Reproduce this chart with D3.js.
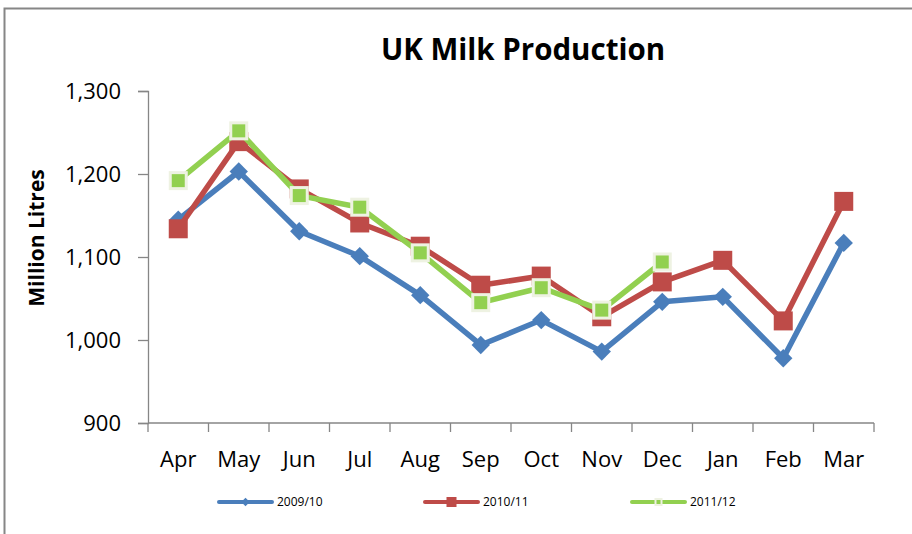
<!DOCTYPE html>
<html>
<head>
<meta charset="utf-8">
<script src="https://cdn.jsdelivr.net/npm/d3@7"></script>
<style>
  body { margin: 0; background: #fff; }
  svg text { font-family: "Open Sans", Lato, sans-serif; fill: #000; }
</style>
</head>
<body>
<div id="chart"></div>
<script>
// Data
var months = ["Apr", "May", "Jun", "Jul", "Aug", "Sep", "Oct", "Nov", "Dec", "Jan", "Feb", "Mar"];
var y2009 = [1145, 1203, 1131, 1101, 1054, 994, 1024, 986, 1046, 1052, 978, 1117];
var y2010 = [1134, 1239, 1182, 1141, 1113, 1066, 1077, 1028, 1070, 1096, 1023, 1167];
var y2011 = [1192, 1252, 1174, 1160, 1105, 1045, 1063, 1036, 1094];
var yTicks = [900, 1000, 1100, 1200, 1300];
var seriesNames = ["2009/10", "2010/11", "2011/12"];

var svgW = 912, svgH = 534;
var margin = { top: 91, right: 38, bottom: 111, left: 148 };
var w = svgW - margin.left - margin.right;
var h = svgH - margin.top - margin.bottom;

var svg = d3.select("#chart").append("svg")
  .attr("width", svgW)
  .attr("height", svgH);

// outer chart border (only top + left visible)
svg.append("path")
  .attr("d", "M4.5,534 L4.5,8.5 L912,8.5")
  .attr("fill", "none")
  .attr("stroke", "#868686")
  .attr("stroke-width", 2);

var g = svg.append("g")
  .attr("transform", "translate(" + margin.left + "," + margin.top + ")");

var x = d3.scaleBand().domain(months).range([0, w]);
var y = d3.scaleLinear().domain([900, 1300]).range([h, 0]);

// Y axis
var yAxis = d3.axisLeft(y).tickValues(yTicks).tickSize(10).tickPadding(17)
  .tickFormat(d3.format(","));
var yg = g.append("g").call(yAxis);
yg.select(".domain").attr("stroke", "#868686").attr("stroke-width", 1.3);
yg.selectAll(".tick line").attr("stroke", "#868686").attr("stroke-width", 1.3);
yg.selectAll(".tick text").style("font-size", "22px").attr("dy", "0.36em");

// X axis
var xg = g.append("g").attr("transform", "translate(0," + h + ")");
xg.append("line").attr("x1", 0).attr("x2", w).attr("y1", 0).attr("y2", 0)
  .attr("stroke", "#868686").attr("stroke-width", 1.3);
xg.selectAll(".xtick").data(d3.range(months.length + 1)).enter()
  .append("line")
  .attr("x1", i => i * x.step()).attr("x2", i => i * x.step())
  .attr("y1", 0).attr("y2", 9)
  .attr("stroke", "#868686").attr("stroke-width", 1.3);
xg.selectAll(".xlab").data(months).enter()
  .append("text")
  .attr("x", d => x(d) + x.bandwidth() / 2)
  .attr("y", 44)
  .attr("text-anchor", "middle")
  .style("font-size", "22px")
  .text(d => d);

// Title
svg.append("text")
  .attr("x", 523).attr("y", 60)
  .attr("text-anchor", "middle")
  .style("font-size", "29.5px").style("font-weight", "bold")
  .text("UK Milk Production");

// Y label
svg.append("text")
  .attr("transform", "translate(44,238) rotate(-90)")
  .attr("text-anchor", "middle")
  .style("font-size", "21px").style("font-weight", "bold")
  .text("Million Litres");

var cx = i => x(months[i]) + x.bandwidth() / 2;
var line = d3.line().x((d, i) => cx(i)).y(d => y(d));

var series = [
  { name: seriesNames[0], vals: y2009, color: "#4A7EBB", shape: "diamond" },
  { name: seriesNames[1], vals: y2010, color: "#BE4B48", shape: "square" },
  { name: seriesNames[2], vals: y2011, color: "#92D050", shape: "squareb" }
];

function drawMarker(sel, s, px, py, size, bw) {
  if (s.shape === "diamond") {
    sel.append("rect")
      .attr("x", -size / 2).attr("y", -size / 2)
      .attr("width", size).attr("height", size)
      .attr("fill", s.color)
      .attr("transform", "translate(" + px + "," + py + ") rotate(45)");
  } else if (s.shape === "square") {
    sel.append("rect")
      .attr("x", px - size / 2).attr("y", py - size / 2)
      .attr("width", size).attr("height", size)
      .attr("fill", s.color);
  } else {
    sel.append("rect")
      .attr("x", px - size / 2).attr("y", py - size / 2)
      .attr("width", size).attr("height", size)
      .attr("fill", s.color)
      .attr("stroke", "#EEF2E2").attr("stroke-width", bw);
  }
}

series.forEach(function (s) {
  var sg = g.append("g");
  sg.append("path")
    .datum(s.vals)
    .attr("d", line)
    .attr("fill", "none")
    .attr("stroke", s.color)
    .attr("stroke-width", 5.5)
    .attr("stroke-linejoin", "round");
  var sizes = { diamond: 13, square: 19, squareb: 16 };
  s.vals.forEach(function (v, i) {
    drawMarker(sg, s, cx(i), y(v), sizes[s.shape], 3);
  });
});

// Legend
var legX = [219, 425, 632];
var legY = 502;
series.forEach(function (s, i) {
  var lg = svg.append("g");
  lg.append("line")
    .attr("x1", legX[i]).attr("x2", legX[i] + 53)
    .attr("y1", legY).attr("y2", legY)
    .attr("stroke", s.color).attr("stroke-width", 4)
    .attr("stroke-linecap", "round");
  var ms = { diamond: 6, square: 10, squareb: 6 };
  drawMarker(lg, s, legX[i] + 26.5, legY, ms[s.shape], 2);
  lg.append("text")
    .attr("x", legX[i] + 58).attr("y", legY + 4)
    .style("font-size", "12px")
    .text(s.name);
});
</script>
</body>
</html>
